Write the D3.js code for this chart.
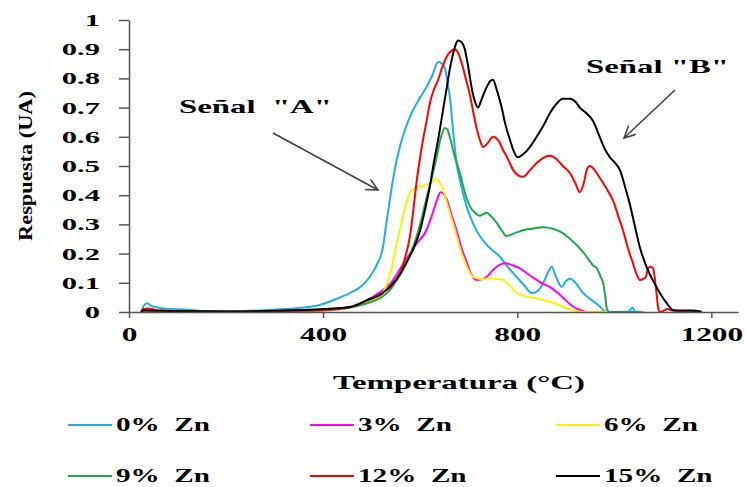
<!DOCTYPE html>
<html><head><meta charset="utf-8">
<script src="https://cdn.jsdelivr.net/npm/d3@7"></script>
<style>body{margin:0;background:#fff}svg{display:block}text{font-family:"Liberation Serif","Times New Roman",serif;font-weight:bold;fill:#000}</style>
</head><body><svg id="c" width="745" height="487"></svg>
<script>
// ---------- data (temperature °C, response UA) ----------
const seriesNames = ["0% Zn","3% Zn","6% Zn","9% Zn","12% Zn","15% Zn"];
const seriesColors = ["#1EAEEA","#FF00FF","#FFF200","#1FA84A","#FF0000","#000000"];
const xTicks = [0,400,800,1200];
const yTicks = [0,0.1,0.2,0.3,0.4,0.5,0.6,0.7,0.8,0.9,1];
const yTickLabels = ["0","0.1","0.2","0.3","0.4","0.5","0.6","0.7","0.8","0.9","1"];

const zn0 = [[25,0],[30,0.02],[38,0.03],[45,0.022],[60,0.015],[90,0.01],[120,0.008],[150,0.003],[200,0.002],[250,0.004],[300,0.008],[352,0.014],[393,0.024],[435,0.05],[455,0.065],[480,0.09],[496,0.12],[510,0.16],[523,0.22],[530,0.30],[538,0.39],[548,0.49],[558,0.565],[570,0.63],[585,0.69],[600,0.735],[613,0.77],[625,0.81],[637,0.856],[645,0.85],[651,0.835],[657,0.78],[661,0.74],[668,0.62],[675,0.51],[685,0.43],[696,0.36],[710,0.30],[723,0.26],[740,0.225],[764,0.19],[780,0.155],[799,0.12],[815,0.09],[830,0.065],[840,0.07],[851,0.09],[862,0.13],[871,0.155],[880,0.12],[892,0.086],[900,0.105],[909,0.115],[920,0.1],[936,0.065],[950,0.045],[970,0.02],[980,0.003],[1000,0],[1030,0.002],[1038,0.015],[1042,0.002],[1060,0]];
const zn3 = [[25,0],[30,0.008],[50,0.005],[100,0.003],[200,0.001],[300,0.002],[400,0.005],[455,0.015],[490,0.04],[523,0.075],[540,0.1],[558,0.145],[575,0.19],[593,0.235],[613,0.28],[622,0.32],[630,0.36],[636,0.39],[642,0.41],[648,0.405],[655,0.385],[665,0.33],[675,0.28],[685,0.22],[696,0.17],[705,0.13],[716,0.11],[727,0.112],[737,0.12],[748,0.14],[758,0.155],[775,0.167],[790,0.16],[805,0.15],[822,0.13],[840,0.11],[855,0.095],[867,0.086],[880,0.07],[894,0.05],[910,0.025],[929,0.007],[945,0],[1000,0]];
const zn6 = [[25,0],[30,0.008],[100,0.003],[200,0.001],[300,0.002],[400,0.005],[455,0.015],[490,0.035],[515,0.05],[530,0.09],[544,0.17],[551,0.23],[558,0.28],[568,0.35],[579,0.41],[590,0.425],[600,0.43],[610,0.435],[620,0.44],[628,0.45],[634,0.455],[640,0.445],[647,0.42],[654,0.38],[661,0.34],[672,0.28],[682,0.22],[695,0.16],[709,0.12],[725,0.113],[744,0.115],[760,0.113],[771,0.11],[785,0.09],[799,0.065],[815,0.055],[833,0.048],[850,0.042],[867,0.035],[885,0.025],[902,0.013],[920,0.004],[935,0],[990,0]];
const zn9 = [[25,0],[30,0.005],[100,0.003],[200,0.002],[300,0.003],[400,0.006],[455,0.015],[500,0.035],[520,0.05],[538,0.075],[552,0.11],[565,0.145],[580,0.2],[593,0.26],[603,0.32],[613,0.39],[624,0.46],[634,0.53],[643,0.6],[651,0.63],[656,0.625],[661,0.60],[670,0.54],[682,0.475],[692,0.41],[703,0.36],[713,0.34],[723,0.33],[730,0.335],[737,0.34],[745,0.33],[758,0.305],[768,0.28],[778,0.26],[795,0.27],[812,0.28],[830,0.285],[853,0.29],[874,0.285],[894,0.27],[909,0.25],[925,0.225],[943,0.19],[956,0.16],[964,0.15],[972,0.12],[977,0.1],[981,0.06],[985,0.01],[990,0],[1050,0]];
const zn12 = [[25,0],[30,0.01],[40,0.012],[60,0.005],[100,0.002],[200,0.001],[300,0.003],[400,0.007],[455,0.017],[490,0.04],[523,0.065],[540,0.09],[558,0.13],[568,0.18],[579,0.26],[586,0.35],[593,0.45],[600,0.53],[607,0.60],[614,0.66],[620,0.715],[628,0.76],[637,0.795],[646,0.84],[655,0.875],[663,0.893],[672,0.90],[679,0.885],[686,0.85],[694,0.80],[703,0.74],[710,0.68],[717,0.625],[723,0.59],[730,0.565],[740,0.58],[750,0.60],[760,0.59],[771,0.555],[782,0.52],[792,0.485],[802,0.468],[812,0.463],[826,0.485],[840,0.51],[853,0.527],[867,0.535],[880,0.525],[894,0.50],[909,0.475],[920,0.44],[929,0.41],[937,0.44],[944,0.49],[950,0.50],[960,0.485],[970,0.46],[985,0.42],[998,0.38],[1008,0.33],[1018,0.28],[1028,0.22],[1038,0.17],[1046,0.13],[1053,0.11],[1059,0.112],[1065,0.12],[1070,0.15],[1075,0.155],[1080,0.15],[1084,0.11],[1087,0.065],[1090,0.02],[1093,0],[1100,0.003],[1110,0.01],[1120,0.005],[1140,0.003],[1170,0.002],[1175,0]];
const zn15 = [[25,0],[30,0.005],[100,0.003],[200,0.002],[300,0.004],[400,0.01],[455,0.017],[490,0.04],[523,0.065],[550,0.11],[572,0.17],[587,0.22],[600,0.28],[610,0.35],[620,0.43],[628,0.51],[637,0.59],[646,0.68],[655,0.77],[662,0.84],[668,0.885],[673,0.915],[678,0.93],[685,0.925],[692,0.90],[699,0.84],[707,0.76],[713,0.72],[719,0.70],[727,0.73],[737,0.77],[744,0.79],[750,0.795],[758,0.76],[768,0.70],[776,0.64],[785,0.59],[793,0.55],[801,0.53],[812,0.54],[826,0.565],[840,0.60],[853,0.635],[867,0.68],[882,0.715],[894,0.73],[909,0.73],[920,0.72],[929,0.70],[943,0.68],[956,0.655],[970,0.60],[980,0.56],[991,0.53],[1002,0.51],[1012,0.485],[1022,0.43],[1032,0.37],[1043,0.29],[1053,0.22],[1063,0.17],[1073,0.13],[1084,0.095],[1094,0.065],[1108,0.03],[1121,0.007],[1130,0.005],[1160,0.005],[1176,0.003],[1180,0]];
const seriesData = [zn0, zn3, zn6, zn9, zn12, zn15];

// ---------- chart ----------
const svg = d3.select("#c");
const x = d3.scaleLinear().domain([0,1255]).range([129,738]);
const y = d3.scaleLinear().domain([0,1]).range([312,20]);

function stretch(sel, f){
  sel.each(function(){
    const w = this.getComputedTextLength();
    d3.select(this).attr("textLength", w*f).attr("lengthAdjust","spacingAndGlyphs");
  });
}

// curves
const line = d3.line().x(d=>x(d[0])).y(d=>y(d[1])).curve(d3.curveMonotoneX);
svg.append("g").selectAll("path").data(seriesData).join("path")
  .attr("d", line).attr("fill","none")
  .attr("stroke",(d,i)=>seriesColors[i]).attr("stroke-width",2)
  .attr("stroke-linejoin","round");

// axes
const axisColor = "#555";
const gx = svg.append("g").attr("transform",`translate(0,${y(0)})`)
  .call(d3.axisBottom(x).tickValues(xTicks).tickFormat(d3.format("d")).tickSize(6).tickSizeOuter(0));
gx.select(".domain").attr("stroke",axisColor).attr("stroke-width",1.5);
gx.selectAll(".tick line").attr("stroke",axisColor).attr("stroke-width",1.5);
gx.selectAll(".tick text").attr("y",16).attr("font-size",19).attr("font-family",null).call(stretch,1.65);

const gy = svg.append("g").attr("transform",`translate(${x(0)},0)`)
  .call(d3.axisLeft(y).tickValues(yTicks).tickFormat((d,i)=>yTickLabels[i]).tickSize(10).tickSizeOuter(0));
gy.select(".domain").attr("stroke",axisColor).attr("stroke-width",1.5);
gy.selectAll(".tick line").attr("stroke",axisColor).attr("stroke-width",1.5);
gy.selectAll(".tick text").attr("x",-29).attr("font-size",17).attr("font-family",null).call(stretch,1.8);

// axis titles
svg.append("text").attr("x",459).attr("y",389).attr("text-anchor","middle")
  .attr("font-size",19).attr("textLength",252).attr("lengthAdjust","spacingAndGlyphs")
  .text("Temperatura (°C)");
svg.append("text").attr("transform","translate(32,166) rotate(-90)").attr("text-anchor","middle")
  .attr("font-size",19).attr("textLength",150).attr("lengthAdjust","spacingAndGlyphs")
  .text("Respuesta (UA)");

// annotations
const defs = svg.append("defs");
defs.append("marker").attr("id","ah").attr("markerUnits","userSpaceOnUse")
  .attr("markerWidth",14).attr("markerHeight",14).attr("refX",12).attr("refY",6)
  .attr("orient","auto")
  .append("path").attr("d","M0,0 L12,6 L0,12").attr("fill","none").attr("stroke","#404040").attr("stroke-width",1.5);
svg.append("text").attr("x",179).attr("y",113).attr("font-size",19)
  .attr("textLength",153).attr("lengthAdjust","spacingAndGlyphs").style("white-space","pre")
  .text('Señal  "A"');
svg.append("line").attr("x1",273).attr("y1",133).attr("x2",378).attr("y2",190)
  .attr("stroke","#404040").attr("stroke-width",1.5).attr("marker-end","url(#ah)");
svg.append("text").attr("x",586).attr("y",73).attr("font-size",19)
  .attr("textLength",143).attr("lengthAdjust","spacingAndGlyphs").style("white-space","pre")
  .text('Señal "B"');
svg.append("line").attr("x1",675).attr("y1",90).attr("x2",624).attr("y2",138)
  .attr("stroke","#404040").attr("stroke-width",1.5).attr("marker-end","url(#ah)");

// legend
const legX = [68,310,556], legY = [425,476];
const leg = svg.append("g").selectAll("g").data(seriesNames).join("g")
  .attr("transform",(d,i)=>`translate(${legX[i%3]},${legY[Math.floor(i/3)]})`);
leg.append("line").attr("x1",0).attr("x2",44).attr("stroke",(d,i)=>seriesColors[i]).attr("stroke-width",2);
leg.append("text").attr("x",48).attr("y",6).attr("font-size",18).style("white-space","pre")
  .text(d=>d.replace(" ","  ")).call(stretch,1.62);
</script></body></html>
